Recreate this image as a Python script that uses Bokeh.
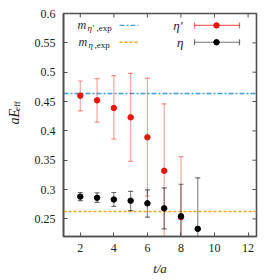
import math
from bokeh.plotting import figure
from bokeh.layouts import row
from bokeh.models import FixedTicker, NumeralTickFormatter, Range1d, Label
from bokeh.embed import file_html
from bokeh.resources import INLINE

# ---------------- data ----------------
etap_t = [2, 3, 4, 5, 6, 7, 8]
etap_val = [0.460, 0.452, 0.439, 0.423, 0.389, 0.332, 0.253]
etap_lo = [0.434, 0.415, 0.386, 0.348, 0.289, 0.218, 0.150]
etap_hi = [0.485, 0.489, 0.494, 0.498, 0.490, 0.446, 0.356]

eta_t = [2, 3, 4, 5, 6, 7, 8, 9]
eta_val = [0.288, 0.286, 0.283, 0.281, 0.2765, 0.268, 0.2545, 0.233]
eta_lo = [0.281, 0.278, 0.2715, 0.264, 0.253, 0.233, 0.200, 0.146]
eta_hi = [0.295, 0.2945, 0.295, 0.297, 0.2995, 0.303, 0.309, 0.320]

etap_exp = [0.463]
eta_exp = [0.263]

x_ticks = [2, 4, 6, 8, 10, 12]
y_ticks = [0.25, 0.3, 0.35, 0.4, 0.45, 0.5, 0.55, 0.6]

# ---------------- style ----------------
X0, X1 = 1.0, 12.5
Y0, Y1 = 0.22, 0.60
FONT = "Liberation Serif"
AX = "#505050"
TXT = "#222222"
RED = "#e8150f"
BLUE = "#3d9bd6"
ORANGE = "#f2a31c"
DASHDOT = "5 2 2 2"
DASHED = "3 2"

# page geometry (page origin at 0,0)
FRAME_L, FRAME_R, FRAME_T, FRAME_B = 63, 256, 13, 238
TOTAL_W, H = 276, 278
LW = 30                      # width of the strip holding the y title
W = TOTAL_W - LW
BL, BR = FRAME_L - LW, TOTAL_W - FRAME_R
BT, BB = FRAME_T, H - FRAME_B
FW, FH = W - BL - BR, H - BT - BB
SX = FW / (X1 - X0)
SY = FH / (Y1 - Y0)


def dx(px):
    return X0 + (px - FRAME_L) / SX


def dy(py):
    return Y1 - (py - FRAME_T) / SY


p = figure(width=W, height=H, output_backend="svg", toolbar_location=None,
           x_range=Range1d(X0, X1), y_range=Range1d(Y0, Y1),
           min_border_left=BL, min_border_right=BR, min_border_top=BT, min_border_bottom=BB)
p.grid.visible = False
p.outline_line_color = AX
p.outline_line_width = 1.6
p.background_fill_color = "white"
p.border_fill_color = "white"


def style_axis(ax, ticks):
    ax.ticker = FixedTicker(ticks=ticks)
    ax.major_tick_in = 4
    ax.major_tick_out = 0
    ax.minor_tick_in = 0
    ax.minor_tick_out = 0
    ax.axis_line_color = AX
    ax.axis_line_width = 1.6
    ax.major_tick_line_color = AX
    ax.major_tick_line_width = 1
    ax.major_label_text_font = FONT
    ax.major_label_text_color = TXT
    ax.major_label_text_font_size = "12px"
    ax.major_label_standoff = 8


style_axis(p.xaxis[0], x_ticks)
style_axis(p.yaxis[0], y_ticks)
p.yaxis[0].formatter = NumeralTickFormatter(format="0.0[0]")
p.xaxis[0].major_label_standoff = 7

# x title
p.xaxis[0].axis_label = "t/a"
p.xaxis[0].axis_label_text_font = FONT
p.xaxis[0].axis_label_text_font_style = "italic"
p.xaxis[0].axis_label_text_font_size = "13px"
p.xaxis[0].axis_label_text_color = TXT
p.xaxis[0].axis_label_standoff = 6

# mirrored ticks on top and right edges
p.scatter(x_ticks, [Y1] * len(x_ticks), marker="dash", angle=math.pi / 2, size=8,
          line_color=AX, line_width=1)
p.scatter([X1] * len(y_ticks), y_ticks, marker="dash", size=8, line_color=AX, line_width=1)

# experimental lines
p.hspan(y=etap_exp, line_color=BLUE, line_width=1.3, line_dash=DASHDOT)
p.hspan(y=eta_exp, line_color=ORANGE, line_width=1.3, line_dash=DASHED)

# error bars
p.segment(x0=etap_t, y0=etap_lo, x1=etap_t, y1=etap_hi, line_color=RED, line_alpha=0.38, line_width=1.2)
p.scatter(etap_t, etap_hi, marker="dash", size=5, line_color=RED, line_alpha=0.45, line_width=1.2)
p.scatter(etap_t, etap_lo, marker="dash", size=5, line_color=RED, line_alpha=0.45, line_width=1.2)
p.segment(x0=eta_t, y0=eta_lo, x1=eta_t, y1=eta_hi, line_color="black", line_alpha=0.45, line_width=1.2)
p.scatter(eta_t, eta_hi, marker="dash", size=5, line_color="black", line_alpha=0.55, line_width=1.2)
p.scatter(eta_t, eta_lo, marker="dash", size=5, line_color="black", line_alpha=0.55, line_width=1.2)

# points
p.scatter(etap_t, etap_val, size=5.5, fill_color=RED, line_color=RED)
p.scatter(eta_t, eta_val, size=5.5, fill_color="black", line_color="black")

# ---------------- legends ----------------
rows = [25, 42]


def lab(fig, text, x, y, size="12px", style="italic", align="left", baseline="middle", angle=0.0):
    fig.add_layout(Label(x=x, y=y, text=text, text_font=FONT, text_font_size=size,
                         text_font_style=style, text_align=align, text_baseline=baseline,
                         angle=angle, text_color=TXT))


def plab(text, px, py, **kw):
    lab(p, text, dx(px), dy(py), **kw)


plab("m", 77, rows[0])
plab("η′", 87, rows[0] + 3, size="9px")
plab(",exp", 96, rows[0] + 3, size="9px", style="normal")
plab("m", 78, rows[1])
plab("η", 88, rows[1] + 3, size="9px")
plab(",exp", 94, rows[1] + 3, size="9px", style="normal")

p.segment(x0=[dx(119)], y0=[dy(rows[0])], x1=[dx(138)], y1=[dy(rows[0])],
          line_color=BLUE, line_width=1.3, line_dash=DASHDOT)
p.segment(x0=[dx(119)], y0=[dy(rows[1])], x1=[dx(138)], y1=[dy(rows[1])],
          line_color=ORANGE, line_width=1.3, line_dash=DASHED)

plab("η′", 182, rows[0], size="13px", align="right")
plab("η", 183, rows[1], size="13px", align="right")
for r, col, a in [(rows[0], RED, 0.65), (rows[1], "black", 0.55)]:
    p.segment(x0=[dx(194)], y0=[dy(r)], x1=[dx(239)], y1=[dy(r)], line_color=col, line_alpha=a, line_width=1.2)
    p.scatter([dx(194), dx(239)], [dy(r), dy(r)], marker="dash", angle=math.pi / 2, size=6,
              line_color=col, line_alpha=a, line_width=1.2)
    p.scatter([dx(216)], [dy(r)], size=5.5, fill_color=col, line_color=col)

# ---------------- y title strip ----------------
t = figure(width=LW, height=H, output_backend="svg", toolbar_location=None,
           x_range=Range1d(0, LW), y_range=Range1d(0, H),
           x_axis_location=None, y_axis_location=None,
           min_border_left=0, min_border_right=0, min_border_top=0, min_border_bottom=0)
t.grid.visible = False
t.outline_line_color = None
t.background_fill_color = "white"
t.border_fill_color = "white"

lab(t, "aE", 13.5, H - 138.5, size="14px", baseline="middle", angle=math.pi / 2)
lab(t, "eff", 16.5, H - 121.5, size="9px", style="normal", baseline="middle", angle=math.pi / 2)

open("out.html", "w").write(file_html(row(t, p), INLINE))
